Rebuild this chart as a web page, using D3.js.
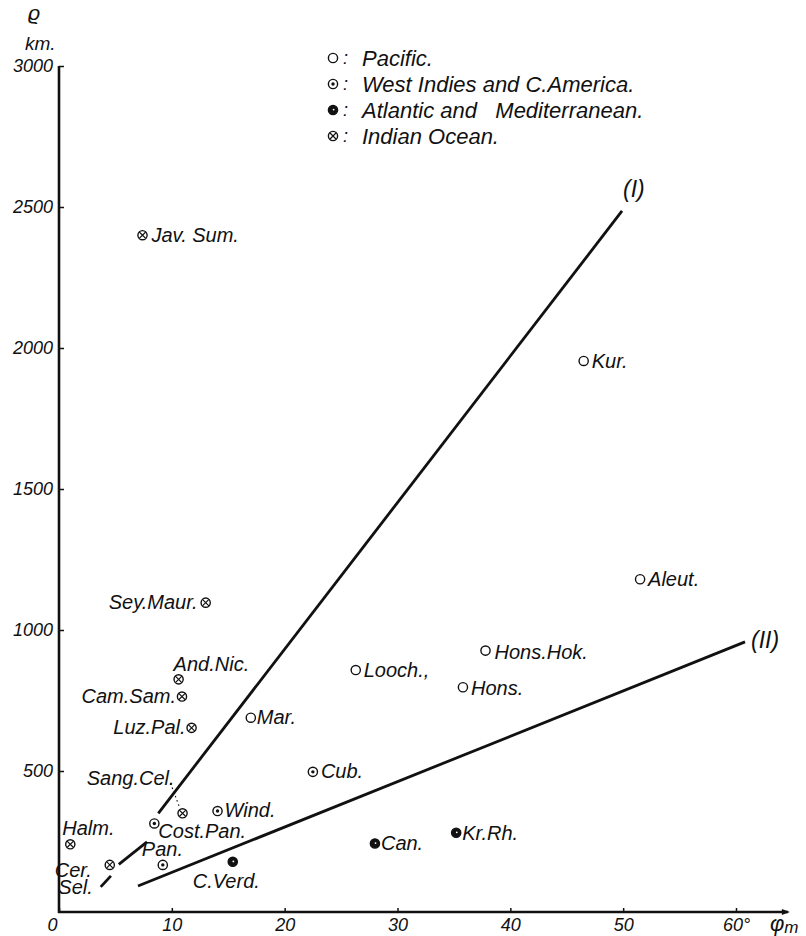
<!DOCTYPE html>
<html>
<head>
<meta charset="utf-8">
<script src="https://cdn.jsdelivr.net/npm/d3@7"></script>
<style>
  body { margin: 0; background: #fff; }
  text { font-family: "Liberation Sans", Arial, sans-serif; font-style: italic; fill: #111; }
</style>
</head>
<body>
<div id="chart"></div>
<script>
// stations: name, mean latitude (phi_m, deg), rho (km), region
const names  = ["Jav. Sum.", "Sey.Maur.", "And.Nic.", "Cam.Sam.", "Luz.Pal.", "Sang.Cel.", "Halm.", "Cer.\nSel.",
                "Wind.", "Cost.Pan.", "Pan.", "Cub.",
                "C.Verd.", "Can.", "Kr.Rh.",
                "Mar.", "Looch.,", "Hons.Hok.", "Hons.", "Kur.", "Aleut."];
const phi    = [7.4, 13.0, 10.6, 10.9, 11.75, 10.95, 1.0, 4.5,
                14.05, 8.45, 9.2, 22.5,
                15.4, 28.0, 35.2,
                17.0, 26.3, 37.8, 35.8, 46.5, 51.5];
const rho    = [2400, 1097, 825, 764, 653, 350, 240, 167,
                358, 314, 167, 497,
                178, 243, 281,
                689, 858, 927, 797, 1954, 1180];
const region = ["I", "I", "I", "I", "I", "I", "I", "I",
                "W", "W", "W", "W",
                "A", "A", "A",
                "P", "P", "P", "P", "P", "P"];

const legendKeys   = ["P", "W", "A", "I"];
const legendLabels = ["Pacific.", "West Indies and C.America.", "Atlantic and \u00a0 Mediterranean.", "Indian Ocean."];

// the two straight lines (I) and (II), line I broken where it passes the markers
const lineI  = [[[3.7, 89], [4.6, 128]], [[5.3, 169], [7.8, 249]], [[8.8, 350], [49.9, 2486]]];
const lineII = [[[7.0, 92], [60.8, 958]]];

const xTicks = [0, 10, 20, 30, 40, 50, 60];
const yTicks = [500, 1000, 1500, 2000, 2500, 3000];

// label placement next to each marker: dx, dy, anchor
const labelPos = {
  "Jav. Sum.": [9, 7, "start"], "Sey.Maur.": [-8, 6, "end"], "And.Nic.": [-5, -8, "start"],
  "Cam.Sam.": [-6, 6, "end"], "Luz.Pal.": [-6, 6, "end"], "Sang.Cel.": [-8, -28, "end"],
  "Halm.": [-8, -9, "start"], "Cer.\nSel.": [-18, 12, "end"], "Wind.": [7, 6, "start"],
  "Cost.Pan.": [4, 15, "start"], "Pan.": [-21, -9, "start"], "Cub.": [8, 6, "start"],
  "C.Verd.": [-40, 26, "start"], "Can.": [6, 7, "start"], "Kr.Rh.": [6, 7, "start"],
  "Mar.": [6, 6, "start"], "Looch.,": [8, 7, "start"], "Hons.Hok.": [9, 8, "start"],
  "Hons.": [8, 8, "start"], "Kur.": [8, 7, "start"], "Aleut.": [8, 7, "start"]
};

const width = 806, height = 936;
const x = d3.scaleLinear().domain([0, 60]).range([59, 736]);
const y = d3.scaleLinear().domain([0, 3000]).range([912, 66]);

const svg = d3.select("#chart").append("svg")
  .attr("width", width)
  .attr("height", height);

function marker(g, type, r) {
  g.append("circle")
    .attr("r", r)
    .attr("fill", type === "A" ? "#111" : "#fff")
    .attr("stroke", "#111")
    .attr("stroke-width", 1.4);
  if (type === "W") {
    g.append("circle").attr("r", 1.7).attr("fill", "#111");
  } else if (type === "I") {
    const d = r * 0.7;
    g.append("path")
      .attr("d", `M${-d},${-d}L${d},${d}M${-d},${d}L${d},${-d}`)
      .attr("stroke", "#111")
      .attr("stroke-width", 1.2);
  } else if (type === "A") {
    g.append("circle").attr("r", 0.9).attr("cx", 0.6).attr("cy", -0.4).attr("fill", "#fff");
  }
}

// axes
const xAxis = d3.axisBottom(x)
  .tickValues(xTicks)
  .tickSizeInner(-4)
  .tickSizeOuter(0)
  .tickPadding(6)
  .tickFormat(d => d === 60 ? "60°" : d);

const yAxis = d3.axisLeft(y)
  .tickValues(yTicks)
  .tickSizeInner(-5)
  .tickSizeOuter(0)
  .tickPadding(6)
  .tickFormat(d3.format("d"));

const gx = svg.append("g")
  .attr("transform", `translate(0,${y(0)})`)
  .call(xAxis);
gx.select(".domain").remove();
gx.selectAll(".tick line").attr("stroke", "#111").attr("stroke-width", 1.5);
gx.selectAll(".tick text")
  .attr("font-size", 18)
  .attr("font-family", null)
  .attr("dx", d => d === 0 ? -7 : 0);

const gy = svg.append("g")
  .attr("transform", `translate(${x(0)},0)`)
  .call(yAxis);
gy.select(".domain").remove();
gy.selectAll(".tick line").attr("stroke", "#111").attr("stroke-width", 1.5);
gy.selectAll(".tick text")
  .attr("font-size", 18)
  .attr("font-family", null);

svg.append("line")
  .attr("x1", x(0)).attr("x2", x(0))
  .attr("y1", y(0) + 1).attr("y2", y(3000))
  .attr("stroke", "#111").attr("stroke-width", 2.6);

svg.append("line")
  .attr("x1", x(0) - 1).attr("x2", x(64.6))
  .attr("y1", y(0)).attr("y2", y(0))
  .attr("stroke", "#111").attr("stroke-width", 2.6);
svg.append("path")
  .attr("d", `M${x(64.6) - 6},${y(0) - 3}L${x(64.6) + 2},${y(0)}L${x(64.6) - 6},${y(0) + 3}Z`)
  .attr("fill", "#111");

// axis titles
svg.append("text").attr("x", 28).attr("y", 20).attr("font-size", 21).text("ϱ");
svg.append("text").attr("x", 25).attr("y", 50).attr("font-size", 19).text("km.");
const phiLabel = svg.append("text").attr("x", 770).attr("y", 931).attr("font-size", 22);
phiLabel.append("tspan").text("φ");
phiLabel.append("tspan").attr("font-size", 17).attr("dy", 2).text("m");

// straight lines
const line = d3.line().x(d => x(d[0])).y(d => y(d[1]));
svg.append("g").selectAll("path")
  .data(lineI.concat(lineII))
  .join("path")
  .attr("d", line)
  .attr("fill", "none")
  .attr("stroke", "#111")
  .attr("stroke-width", 2.8);

svg.append("text")
  .attr("x", x(49.9) + 1).attr("y", y(2486) - 14)
  .attr("font-family", "Liberation Serif, serif")
  .attr("font-size", 23)
  .text("(I)");
svg.append("text")
  .attr("x", x(60.8) + 6).attr("y", y(958) + 6)
  .attr("font-family", "Liberation Serif, serif")
  .attr("font-size", 23)
  .text("(II)");

// stations
const data = names.map((n, i) => ({ name: n, phi: phi[i], rho: rho[i], region: region[i] }));

const pts = svg.append("g").selectAll("g")
  .data(data)
  .join("g")
  .attr("transform", d => `translate(${x(d.phi)},${y(d.rho)})`);

pts.each(function (d) {
  const g = d3.select(this);
  marker(g, d.region, 4.6);
  const [dx, dy, anchor] = labelPos[d.name];
  const t = g.append("text")
    .attr("x", dx).attr("y", dy)
    .attr("text-anchor", anchor)
    .attr("font-size", 20);
  d.name.split("\n").forEach((part, k) => {
    t.append("tspan").attr("x", dx + (k ? 1 : 0)).attr("dy", k ? 17 : 0).text(part);
  });
  if (d.name === "Sang.Cel.") {
    g.append("line")
      .attr("x1", -12).attr("y1", -30).attr("x2", -3).attr("y2", -6)
      .attr("stroke", "#111").attr("stroke-width", 1.2)
      .attr("stroke-dasharray", "1.5 3");
  }
});

// legend
const legend = svg.append("g").attr("transform", "translate(333,58)");
legendKeys.forEach((k, i) => {
  const row = legend.append("g").attr("transform", `translate(0,${i * 26})`);
  marker(row, k, 4.6);
  row.append("text").attr("x", 10).attr("y", 6).attr("font-size", 18).attr("font-style", "normal").text(":");
  row.append("text").attr("x", 29).attr("y", 8).attr("font-size", 22).text(legendLabels[i]);
});
</script>
</body>
</html>
